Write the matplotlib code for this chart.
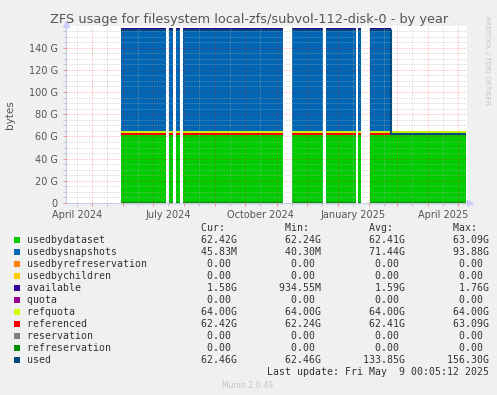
import matplotlib
matplotlib.use('Agg')
import matplotlib.pyplot as plt
import matplotlib.dates as mdates
from matplotlib.patches import Rectangle
from matplotlib.ticker import FuncFormatter, MultipleLocator, FixedLocator
import numpy as np
import pandas as pd

nan = np.nan

# ---- data (G): one value per continuous data segment ----
seg_start = ["2024-05-30", "2024-07-17", "2024-07-24", "2024-07-31", "2024-11-16",
             "2024-12-20", "2025-01-21", "2025-02-02", "2025-02-23"]
seg_end = ["2024-07-14", "2024-07-21", "2024-07-28", "2024-11-07", "2024-12-17",
           "2025-01-19", "2025-01-24", "2025-02-23", "2025-05-09"]
usedbydataset = [62.4, 62.4, 62.4, 62.4, 62.4, 62.4, 62.4, 62.4, 62.42]
usedbysnapshots = [93.5, 93.5, 93.5, 93.6, 93.7, 93.8, 93.8, 93.88, 0.046]
usedbyrefreservation = [0, 0, 0, 0, 0, 0, 0, 0, 0]
usedbychildren = [0, 0, 0, 0, 0, 0, 0, 0, 0]
available = [1.6, 1.6, 1.6, 1.6, 1.6, 1.6, 1.6, 1.6, 1.58]
quota = [0, 0, 0, 0, 0, 0, 0, 0, 0]
refquota = [64.0, 64.0, 64.0, 64.0, 64.0, 64.0, 64.0, 64.0, 64.0]
referenced = [62.4, 62.4, 62.4, 62.4, 62.4, 62.4, 62.4, 62.4, 62.42]
reservation = [0, 0, 0, 0, 0, 0, 0, 0, 0]
refreservation = [0, 0, 0, 0, 0, 0, 0, 0, 0]
used = [155.9, 155.9, 155.9, 156.0, 156.1, 156.2, 156.2, 156.3, 62.46]

names = ["usedbydataset", "usedbysnapshots", "usedbyrefreservation", "usedbychildren",
         "available", "quota", "refquota", "referenced", "reservation",
         "refreservation", "used"]
colors = ["#00CC00", "#0066B3", "#FF8000", "#FFCC00", "#330099", "#990099",
          "#CCFF00", "#FF0000", "#808080", "#008F00", "#00487D"]
cur = ["62.42G", "45.83M", "0.00 ", "0.00 ", "1.58G", "0.00 ", "64.00G", "62.42G", "0.00 ", "0.00 ", "62.46G"]
mins = ["62.24G", "40.30M", "0.00 ", "0.00 ", "934.55M", "0.00 ", "64.00G", "62.24G", "0.00 ", "0.00 ", "62.46G"]
avgs = ["62.41G", "71.44G", "0.00 ", "0.00 ", "1.59G", "0.00 ", "64.00G", "62.41G", "0.00 ", "0.00 ", "133.85G"]
maxs = ["63.09G", "93.88G", "0.00 ", "0.00 ", "1.76G", "0.00 ", "64.00G", "63.09G", "0.00 ", "0.00 ", "156.30G"]

title = "ZFS usage for filesystem local-zfs/subvol-112-disk-0 - by year"
x_start, x_end = "2024-04-05", "2025-05-10"
label_months = ["2024-04", "2024-07", "2024-10", "2025-01", "2025-04"]
label_texts = ["April 2024", "July 2024", "October 2024", "January 2025", "April 2025"]
y_max = 159.5


def seg_xy(values):
    """Turn per-segment constant values into x/y arrays with NaN breaks at gaps."""
    xs, ys = [], []
    starts = pd.to_datetime(seg_start)
    ends = pd.to_datetime(seg_end)
    for i, v in enumerate(values):
        xs += [starts[i], ends[i]]
        ys += [v, v]
        if i + 1 < len(values) and starts[i + 1] != ends[i]:
            xs.append(ends[i])
            ys.append(nan)
    return pd.DatetimeIndex(xs), np.array(ys, dtype=float)


# ---- figure ----
W, H = 497, 395
fig = plt.figure(figsize=(W / 100, H / 100), dpi=100, facecolor="#F0F0F0")
L, R, T, B = 66, 467, 26, 203
ax = fig.add_axes([L / W, 1 - B / H, (R - L) / W, (B - T) / H])
ax.set_facecolor("white")

stack_order = [usedbydataset, usedbysnapshots, usedbyrefreservation, usedbychildren, available]
base = None
for vals, c in zip(stack_order, colors[:5]):
    xs, v = seg_xy(vals)
    if base is None:
        base = np.zeros(len(v))
    top = base + v
    ax.fill_between(xs, base, top, color=c, linewidth=0, zorder=1)
    base = top

line_series = [quota, refquota, referenced, reservation, refreservation, used]
for vals, c in zip(line_series, colors[5:]):
    xs, v = seg_xy(vals)
    ax.plot(xs, v, color=c, lw=1.5, zorder=2, solid_capstyle="butt", clip_on=False)

ax.set_xlim(pd.Timestamp(x_start), pd.Timestamp(x_end))
ax.set_ylim(0, y_max)

# grid / ticks
month_starts = pd.date_range("2024-05-01", "2025-05-01", freq="MS")
mid_months = pd.date_range("2024-04-01", "2025-04-01", freq="MS") + pd.Timedelta(days=15)
ax.xaxis.set_major_locator(FixedLocator(mdates.date2num(month_starts)))
ax.xaxis.set_minor_locator(FixedLocator(mdates.date2num(mid_months)))
ax.xaxis.set_major_formatter(FuncFormatter(lambda v, p: ""))
lab_map = {pd.Timestamp(m + "-01") + pd.Timedelta(days=15): t for m, t in zip(label_months, label_texts)}


def xminor_fmt(v, p):
    d = pd.Timestamp(mdates.num2date(v).replace(tzinfo=None)).normalize()
    return lab_map.get(d, "")


ax.xaxis.set_minor_formatter(FuncFormatter(xminor_fmt))
ax.yaxis.set_major_locator(MultipleLocator(20))
ax.yaxis.set_minor_locator(MultipleLocator(5))
ax.yaxis.set_major_formatter(FuncFormatter(lambda v, p: "0" if v == 0 else f"{int(v)} G"))

ax.set_axisbelow(False)
ax.grid(which="major", color="#FF0000", alpha=0.3, lw=0.6, linestyle=(0, (1.5, 1.5)))
ax.grid(which="minor", color="#B0B0B0", alpha=0.55, lw=0.6, linestyle=(0, (1.5, 1.5)))

ax.tick_params(axis="both", which="both", labelsize=7, labelcolor="#555555", length=2, width=0.6)
ax.tick_params(axis="both", which="major", color="#F08080")
ax.tick_params(axis="both", which="minor", color="#C0C0C0")
ax.tick_params(axis="x", which="minor", pad=3)
ax.tick_params(axis="y", which="major", pad=4)

for s in ["top", "right"]:
    ax.spines[s].set_visible(False)
for s in ["left", "bottom"]:
    ax.spines[s].set_color("#C8CCE8")
    ax.spines[s].set_linewidth(0.8)
ax.plot([1.0 + 3 / (R - L)], [0], marker=">", color="#CCCCFF", ms=4, transform=ax.transAxes, clip_on=False)
ax.plot([0], [1.0 + 2 / (B - T)], marker="^", color="#CCCCFF", ms=4, transform=ax.transAxes, clip_on=False)

fig.text(10 / W, 1 - 115 / H, "bytes", rotation=90, ha="center", va="center", fontsize=7.5, color="#555555")
fig.text(249 / W, 1 - 20 / H, title, ha="center", va="center", fontsize=9.3, color="#555555")
fig.text(487 / W, 1 - 60 / H, "RRDTOOL / TOBI OETIKER", rotation=270, ha="center", va="center",
         fontsize=5, color="#C4C4C4")
fig.text(248 / W, 1 - 385 / H, "Munin 2.0.49", ha="center", va="center", fontsize=5.6, color="#C4C4C4")

# legend table
x0 = 26.7
row0 = 239.7
step = 12.0
mono = dict(family="DejaVu Sans Mono", fontsize=7.1, color="#333333", va="center", ha="left")
header = f"{'':29}{'Cur:':>4}{'Min:':>14}{'Avg:':>14}{'Max:':>14}"
fig.text(x0 / W, 1 - (row0 - step) / H, header, **mono)
for i, (n, c) in enumerate(zip(names, colors)):
    y = row0 + i * step
    fig.add_artist(Rectangle((14 / W, 1 - (y + 2.8) / H), 5.6 / W, 5.6 / H,
                             transform=fig.transFigure, facecolor=c, edgecolor="none"))
    line = f"{n:<29}{cur[i]:>6}{mins[i]:>14}{avgs[i]:>14}{maxs[i]:>14}"
    fig.text(x0 / W, 1 - y / H, line, **mono)
fig.text(x0 / W, 1 - (row0 + 11 * step) / H, f"{'Last update: Fri May  9 00:05:12 2025':>77}", **mono)

fig.savefig("out.png", dpi=100, facecolor=fig.get_facecolor())
